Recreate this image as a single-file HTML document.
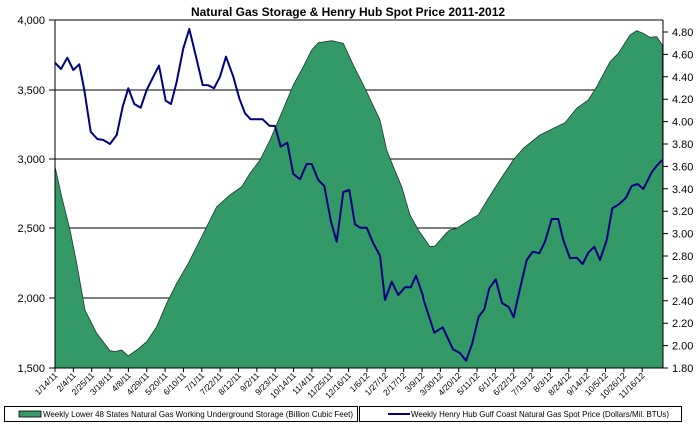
<!DOCTYPE html>
<html><head><meta charset="utf-8"><style>
body{margin:0;background:#fff;}
svg{display:block;font-family:"Liberation Sans",Arial,sans-serif;}
</style></head><body>
<svg width="697" height="425" viewBox="0 0 697 425" xmlns="http://www.w3.org/2000/svg">
<rect width="697" height="425" fill="#fff"/>
<text x="348" y="16" text-anchor="middle" font-size="12" font-weight="bold" fill="#000">Natural Gas Storage &amp; Henry Hub Spot Price 2011-2012</text>
<g stroke="#000" stroke-width="1">
<line x1="55" y1="90" x2="663" y2="90"/>
<line x1="55" y1="159" x2="663" y2="159"/>
<line x1="55" y1="228" x2="663" y2="228"/>
<line x1="55" y1="298" x2="663" y2="298"/>
</g>
<polygon fill="#339966" stroke="#1a3a2a" stroke-width="0.8" points="55,368 55,166.7 61.7,196.7 70,230 76.7,263.3 85,310 96.7,333.3 110,350.7 115,351.7 121.7,350 128.3,356 136.7,350 146.7,341.7 156.7,326.7 166.7,303.3 176.7,283.3 188.3,263.3 200,240 206.7,226.7 216.7,206.7 230,195 241.7,186.7 250,173.3 260,160 270,140 280,116.7 293.3,85 303.3,66.7 311.7,50 318.3,42.7 331.7,40.7 343.3,43.3 353.3,65 360,78.3 365,88.3 380,120 386.7,150 393.3,166.7 401.7,186.7 410,215 418.3,230 430,246.7 435,246 446.7,232.7 450,230 456.7,228.3 468.3,220.7 478.3,215 488.3,198.3 500,180 513.3,160 523.3,148.3 540,135 553.3,128.3 565,122.7 576.7,108.3 588.3,100 596.7,86.7 610,61.7 618.3,53.3 630,35 636.7,30.7 643.3,33.3 650,37.3 656.7,36.7 662.3,45 663,368"/>
<polyline fill="none" stroke="#000080" stroke-width="2" stroke-linejoin="round" points="55,62.7 61,69 67.3,57.7 73.3,70 79.3,64.3 84.3,90 90.7,131.7 97.3,139 103.3,140 110,144 116.7,135 122.7,106.7 128.3,88.3 134.3,104 140.7,107.7 146.7,90 153.3,76.7 159,65.7 165.7,100.7 171,104 176.7,81.7 183.3,48.3 189.3,29 196,56.7 202.7,85 208.3,85.3 214,88.3 220,76.7 226,56.7 233.3,76.7 239.3,98.3 245,113.3 250.7,119.3 262.7,119.3 269.3,125.7 275,126 280.7,146.7 287.3,142.7 293.3,174 300,179.3 306.7,164 311.7,164 318.3,180 324.3,186 331,221.7 336.7,241.7 343.3,192 349.3,190 355,224.3 360,227.7 366.7,227.7 373.3,243.3 380,255.7 385,300 391.7,281.7 398.3,295 405,287.3 410.7,287.3 416,275.7 422.7,295 423.7,300 434.3,332.7 442.7,327.3 453,349.3 460.3,353.3 466,360.7 472,344.3 478.7,316.7 484.3,309.3 489.3,288.3 495.7,279.3 502,303 508.7,307 513.7,317.3 516.7,303 526.7,260 532.7,251.7 539.3,253.3 545,241.7 551.7,219 558.3,219 563.3,240 570,258.3 576.7,257.7 582.7,264 588.3,252.7 594.3,246.7 600,260 606.7,240 612.3,208.3 619.3,204 626,197.7 631.7,186 637.7,184 643.3,189 651.7,172.3 656.7,165.7 662.3,160"/>
<g stroke="#000" stroke-width="1" fill="none">
<line x1="55" y1="20" x2="663" y2="20"/>
<line x1="55" y1="20" x2="55" y2="368"/>
<line x1="663" y1="20" x2="663" y2="368"/>
<line x1="55" y1="368" x2="663" y2="368"/>
<path d="M49,20H55M49,90H55M49,159H55M49,228H55M49,298H55M49,368H55"/>
<path d="M663,32H668M663,54.4H668M663,76.8H668M663,99.2H668M663,121.6H668M663,144H668M663,166.4H668M663,188.8H668M663,211.2H668M663,233.6H668M663,256H668M663,278.4H668M663,300.8H668M663,323.2H668M663,345.6H668M663,368H668"/>
<path d="M55,368V372M73.35,368V372M91.7,368V372M110.05,368V372M128.4,368V372M146.75,368V372M165.1,368V372M183.45,368V372M201.8,368V372M220.15,368V372M238.5,368V372M256.85,368V372M275.2,368V372M293.55,368V372M311.9,368V372M330.25,368V372M348.6,368V372M366.95,368V372M385.3,368V372M403.65,368V372M422,368V372M440.35,368V372M458.7,368V372M477.05,368V372M495.4,368V372M513.75,368V372M532.1,368V372M550.45,368V372M568.8,368V372M587.15,368V372M605.5,368V372M623.85,368V372M642.2,368V372"/>
</g>
<g font-size="11" fill="#000" text-anchor="end">
<text x="45" y="24">4,000</text><text x="45" y="94">3,500</text><text x="45" y="163">3,000</text><text x="45" y="232">2,500</text><text x="45" y="302">2,000</text><text x="45" y="372">1,500</text>
</g>
<g font-size="11" fill="#000">
<text x="672" y="36">4.80</text><text x="672" y="58.4">4.60</text><text x="672" y="80.8">4.40</text><text x="672" y="103.2">4.20</text><text x="672" y="125.6">4.00</text><text x="672" y="148">3.80</text><text x="672" y="170.4">3.60</text><text x="672" y="192.8">3.40</text><text x="672" y="215.2">3.20</text><text x="672" y="237.6">3.00</text><text x="672" y="260">2.80</text><text x="672" y="282.4">2.60</text><text x="672" y="304.8">2.40</text><text x="672" y="327.2">2.20</text><text x="672" y="349.6">2.00</text><text x="672" y="372">1.80</text>
</g>
<g font-size="8.5" fill="#000" text-anchor="end">
<text transform="translate(58,376) rotate(-45)">1/14/11</text>
<text transform="translate(76.35,376) rotate(-45)">2/4/11</text>
<text transform="translate(94.7,376) rotate(-45)">2/25/11</text>
<text transform="translate(113.05,376) rotate(-45)">3/18/11</text>
<text transform="translate(131.4,376) rotate(-45)">4/8/11</text>
<text transform="translate(149.75,376) rotate(-45)">4/29/11</text>
<text transform="translate(168.1,376) rotate(-45)">5/20/11</text>
<text transform="translate(186.45,376) rotate(-45)">6/10/11</text>
<text transform="translate(204.8,376) rotate(-45)">7/1/11</text>
<text transform="translate(223.15,376) rotate(-45)">7/22/11</text>
<text transform="translate(241.5,376) rotate(-45)">8/12/11</text>
<text transform="translate(259.85,376) rotate(-45)">9/2/11</text>
<text transform="translate(278.2,376) rotate(-45)">9/23/11</text>
<text transform="translate(296.55,376) rotate(-45)">10/14/11</text>
<text transform="translate(314.9,376) rotate(-45)">11/4/11</text>
<text transform="translate(333.25,376) rotate(-45)">11/25/11</text>
<text transform="translate(351.6,376) rotate(-45)">12/16/11</text>
<text transform="translate(369.95,376) rotate(-45)">1/6/12</text>
<text transform="translate(388.3,376) rotate(-45)">1/27/12</text>
<text transform="translate(406.65,376) rotate(-45)">2/17/12</text>
<text transform="translate(425,376) rotate(-45)">3/9/12</text>
<text transform="translate(443.35,376) rotate(-45)">3/30/12</text>
<text transform="translate(461.7,376) rotate(-45)">4/20/12</text>
<text transform="translate(480.05,376) rotate(-45)">5/11/12</text>
<text transform="translate(498.4,376) rotate(-45)">6/1/12</text>
<text transform="translate(516.75,376) rotate(-45)">6/22/12</text>
<text transform="translate(535.1,376) rotate(-45)">7/13/12</text>
<text transform="translate(553.45,376) rotate(-45)">8/3/12</text>
<text transform="translate(571.8,376) rotate(-45)">8/24/12</text>
<text transform="translate(590.15,376) rotate(-45)">9/14/12</text>
<text transform="translate(608.5,376) rotate(-45)">10/5/12</text>
<text transform="translate(626.85,376) rotate(-45)">10/26/12</text>
<text transform="translate(645.2,376) rotate(-45)">11/16/12</text>
</g>
<g font-size="8.5" fill="#000">
<rect x="4.5" y="406.5" width="353" height="15" fill="none" stroke="#000"/>
<rect x="19" y="411" width="22" height="6" fill="#339966" stroke="#000" stroke-width="0.8"/>
<text x="43" y="417" textLength="310" lengthAdjust="spacingAndGlyphs">Weekly Lower 48 States Natural Gas Working Underground Storage  (Billion Cubic Feet)</text>
<rect x="359.5" y="406.5" width="322" height="15" fill="none" stroke="#000"/>
<line x1="388" y1="414" x2="410" y2="414" stroke="#000080" stroke-width="2"/>
<text x="411" y="417" textLength="258" lengthAdjust="spacingAndGlyphs">Weekly  Henry  Hub Gulf Coast Natural Gas Spot Price (Dollars/Mil. BTUs)</text>
</g>
</svg>
</body></html>
